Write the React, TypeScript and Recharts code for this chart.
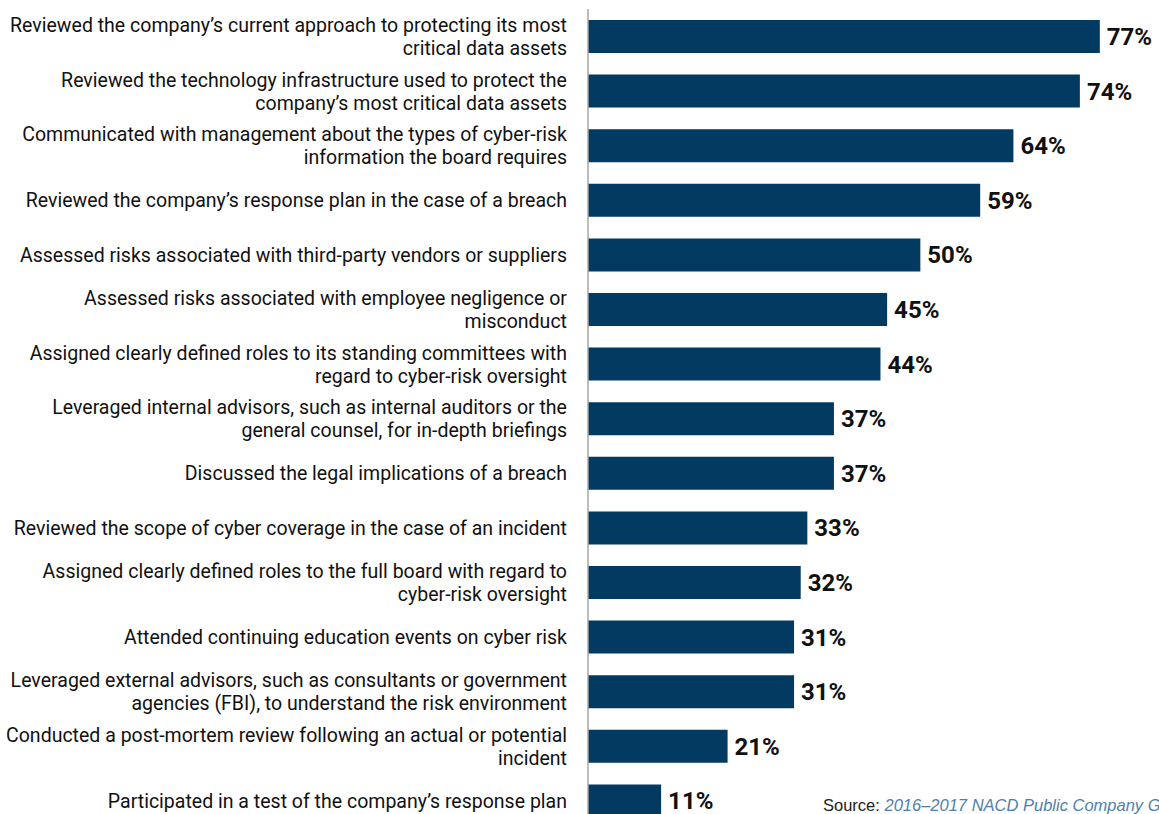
import React from 'react'
import { BarChart, Bar, XAxis, YAxis, LabelList } from 'recharts'

// Category labels, already broken into lines as in the original
const CATEGORIES = [
  'Reviewed the company’s current approach to protecting its most\ncritical data assets',
  'Reviewed the technology infrastructure used to protect the\ncompany’s most critical data assets',
  'Communicated with management about the types of cyber-risk\ninformation the board requires',
  'Reviewed the company’s response plan in the case of a breach',
  'Assessed risks associated with third-party vendors or suppliers',
  'Assessed risks associated with employee negligence or\nmisconduct',
  'Assigned clearly defined roles to its standing committees with\nregard to cyber-risk oversight',
  'Leveraged internal advisors, such as internal auditors or the\ngeneral counsel, for in-depth briefings',
  'Discussed the legal implications of a breach',
  'Reviewed the scope of cyber coverage in the case of an incident',
  'Assigned clearly defined roles to the full board with regard to\ncyber-risk oversight',
  'Attended continuing education events on cyber risk',
  'Leveraged external advisors, such as consultants or government\nagencies (FBI), to understand the risk environment',
  'Conducted a post-mortem review following an actual or potential\nincident',
  'Participated in a test of the company’s response plan',
]

const VALUES = [77, 74, 64, 59, 50, 45, 44, 37, 37, 33, 32, 31, 31, 21, 11]

const FONT = "Roboto, 'Noto Sans', sans-serif"
const BAR_COLOR = '#033a62'

const data = CATEGORIES.map((name, i) => ({ name, value: VALUES[i] }))

// multi-line, right aligned, squeezed a bit to look like the condensed original font
function CategoryTick({ x, y, payload }: { x?: number; y?: number; payload?: { value: string } }) {
  const lines = String(payload?.value ?? '').split('\n')
  const lineH = 23
  const start = -((lines.length - 1) * lineH) / 2
  const ax = (x ?? 0) - 13
  return (
    <text
      x={ax}
      y={y}
      textAnchor="end"
      fontFamily={FONT}
      fontSize={21}
      fill="#111"
      transform={`translate(${ax},0) scale(0.93,1) translate(${-ax},0)`}
    >
      {lines.map((l, i) => (
        <tspan key={i} x={ax} dy={i === 0 ? start : lineH} dominantBaseline="central">
          {l}
        </tspan>
      ))}
    </text>
  )
}

export default function App() {
  return (
    <div style={{ position: 'absolute', left: 0, top: 0, width: 1159, height: 814, overflow: 'hidden', background: '#fff' }}>
      <BarChart
        width={1159}
        height={830}
        data={data}
        layout="vertical"
        margin={{ top: 9, right: 6, bottom: 2, left: 0 }}
        barSize={33}
      >
        <XAxis type="number" domain={[0, 85]} hide />
        <YAxis
          type="category"
          dataKey="name"
          width={588}
          tick={<CategoryTick />}
          tickLine={false}
          axisLine={{ stroke: '#a6a6a6', strokeWidth: 1.5 }}
          interval={0}
        />
        <Bar dataKey="value" fill={BAR_COLOR} isAnimationActive={false}>
          <LabelList
            dataKey="value"
            position="right"
            offset={7}
            formatter={(v: number) => `${v}%`}
            style={{ fontFamily: FONT, fontSize: 24, fontWeight: 700, fill: '#111' }}
          />
        </Bar>
      </BarChart>
      <div
        style={{
          position: 'absolute',
          left: 823,
          top: 796,
          whiteSpace: 'nowrap',
          fontFamily: "'Liberation Sans', Arial, sans-serif",
          fontSize: 16.5,
          color: '#222',
        }}
      >
        Source: <span style={{ fontStyle: 'italic', color: '#4f7fac' }}>2016–2017 NACD Public Company Governance Survey.</span>
      </div>
    </div>
  )
}
